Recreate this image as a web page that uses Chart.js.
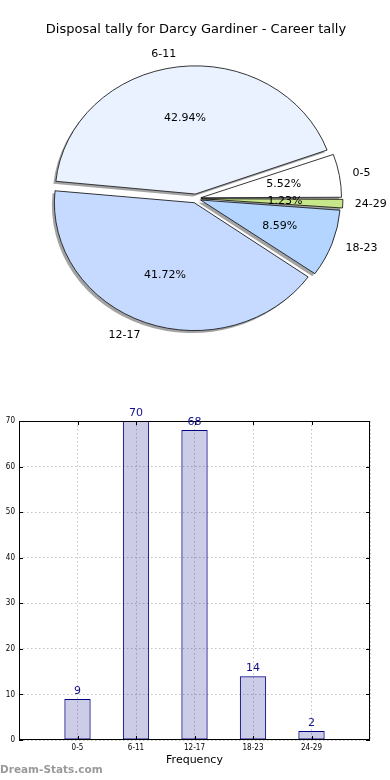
<!DOCTYPE html>
<html>
<head>
<meta charset="utf-8">
<script src="https://cdn.jsdelivr.net/npm/chart.js@4/dist/chart.umd.min.js"></script>
<style>
  body { margin: 0; background: #fff; width: 390px; height: 780px; position: relative; overflow: hidden; }
  #pie { position: absolute; left: 0; top: 0; }
  #bars { position: absolute; left: 0; top: 400px; }
  .mark { position: absolute; left: 0; top: 763px; font: bold 10.5px "DejaVu Sans", sans-serif; color: #9a9a9a; }
</style>
</head>
<body>
<canvas id="pie" width="390" height="400"></canvas>
<canvas id="bars" width="390" height="380"></canvas>
<div class="mark">Dream-Stats.com</div>
<script>
// data
const categories = ["0-5", "6-11", "12-17", "18-23", "24-29"];
const counts = [9, 70, 68, 14, 2];
const yMax = 70;
const yStep = 10;
const titleText = "Disposal tally for Darcy Gardiner - Career tally";
const xTitle = "Frequency";

const pieColors = ["#ffffff", "#eaf2ff", "#c6daff", "#b3d5ff", "#c8e68a"];
const SX = 1.094; // pie is drawn as an ellipse, like the original
const EXPLODE = 18; // chart.js moves arcs offset/4

// chart.js goes clockwise, matplotlib goes counter-clockwise: reverse
const pieLabels = categories.slice().reverse();
const pieData = counts.slice().reverse();
const pieBg = pieColors.slice().reverse();
const total = counts.reduce((s, v) => s + v, 0);

const pieExtras = {
  id: "pieExtras",
  beforeDatasetsDraw(chart) {
    const ctx = chart.ctx;
    const arcs = chart.getDatasetMeta(0).data;
    const a = arcs[0];
    ctx.save();
    ctx.translate(a.x, a.y);
    ctx.scale(SX, 1);
    ctx.translate(-a.x, -a.y);
    // shadow pass, fills only; real arcs are drawn over it
    ctx.save();
    ctx.shadowColor = "rgba(0,0,0,0.36)";
    ctx.shadowOffsetX = -2.5;
    ctx.shadowOffsetY = 2.5;
    ctx.shadowBlur = 0;
    arcs.forEach((arc) => {
      const o = arc.options;
      arc.options = Object.assign({}, o, { borderWidth: 0, borderColor: "rgba(0,0,0,0)" });
      arc.draw(ctx);
      arc.options = o;
    });
    ctx.restore();
  },
  afterDatasetsDraw(chart) {
    const ctx = chart.ctx;
    ctx.restore();
    const meta = chart.getDatasetMeta(0);
    ctx.save();
    ctx.fillStyle = "#000";
    ctx.font = "11px 'DejaVu Sans', sans-serif";
    ctx.textBaseline = "middle";
    meta.data.forEach((arc, i) => {
      const mid = (arc.startAngle + arc.endAngle) / 2;
      const c = Math.cos(mid), s = Math.sin(mid);
      const d = EXPLODE / 4;
      const r = 128;
      ctx.textAlign = c > 0 ? "left" : "right";
      ctx.fillText(pieLabels[i], arc.x + SX * (d + 1.1 * r) * c, arc.y + (d + 1.1 * r) * s);
      const pct = (pieData[i] / total * 100).toFixed(2) + "%";
      ctx.textAlign = "center";
      ctx.fillText(pct, arc.x + SX * (d + 0.6 * r) * c, arc.y + (d + 0.6 * r) * s);
    });
    ctx.restore();
  }
};

new Chart(document.getElementById("pie"), {
  type: "pie",
  data: {
    labels: pieLabels,
    datasets: [{
      data: pieData,
      backgroundColor: pieBg,
      borderColor: "#111",
      borderWidth: 0.8,
      offset: EXPLODE
    }]
  },
  options: {
    responsive: false,
    animation: false,
    rotation: 90,
    radius: 125.6,
    layout: { padding: { left: 2, right: 0, top: 0, bottom: 40.6 } },
    plugins: {
      legend: { display: false },
      tooltip: { enabled: false },
      title: {
        display: true,
        text: titleText,
        color: "#000",
        font: { family: "DejaVu Sans", size: 13, weight: "normal", lineHeight: 1.2 },
        padding: { top: 22, bottom: 0 }
      }
    }
  },
  plugins: [pieExtras]
});

// bar chart
const barExtras = {
  id: "barExtras",
  afterDatasetsDraw(chart) {
    const ctx = chart.ctx;
    const a = chart.chartArea;
    const xs = chart.scales.x, ys = chart.scales.y;
    ctx.save();
    // frame
    ctx.strokeStyle = "#000";
    ctx.lineWidth = 1;
    ctx.strokeRect(a.left + 0.5, a.top + 0.5, a.right - a.left - 1, a.bottom - a.top - 1);
    // inner tick marks
    ctx.beginPath();
    for (let v = 0; v <= yMax; v += yStep) {
      const y = Math.round(ys.getPixelForValue(v)) + 0.5;
      ctx.moveTo(a.left, y); ctx.lineTo(a.left + 4, y);
      ctx.moveTo(a.right, y); ctx.lineTo(a.right - 4, y);
    }
    categories.forEach((c, i) => {
      const x = Math.round(xs.getPixelForValue(i)) + 0.5;
      ctx.moveTo(x, a.bottom); ctx.lineTo(x, a.bottom - 4);
      ctx.moveTo(x, a.top); ctx.lineTo(x, a.top + 4);
    });
    ctx.stroke();
    // value labels
    ctx.fillStyle = "#10108a";
    ctx.font = "11px 'DejaVu Sans', sans-serif";
    ctx.textAlign = "center";
    ctx.textBaseline = "bottom";
    const meta = chart.getDatasetMeta(0);
    meta.data.forEach((bar, i) => {
      const y = ys.getPixelForValue(counts[i] + 1);
      ctx.fillText(String(counts[i]), bar.x, y + 2);
    });
    ctx.restore();
  }
};

new Chart(document.getElementById("bars"), {
  type: "bar",
  data: {
    datasets: [{
      data: counts.map((v, i) => ({ x: i, y: v })),
      backgroundColor: "rgba(0,0,128,0.2)",
      borderColor: "#000080",
      borderWidth: 1,
      borderSkipped: false,
      barPercentage: 0.45,
      categoryPercentage: 1
    }]
  },
  options: {
    responsive: false,
    animation: false,
    layout: { padding: { left: 0, right: 20, top: 21, bottom: 0 } },
    plugins: { legend: { display: false }, tooltip: { enabled: false } },
    scales: {
      x: {
        type: "linear",
        offset: false,
        min: -1,
        max: categories.length,
        afterFit(scale) { scale.height = 40; },
        ticks: {
          stepSize: 1,
          autoSkip: false,
          maxRotation: 0,
          padding: 3,
          color: "#000",
          font: { family: "'DejaVu Sans Condensed', 'Liberation Sans Narrow', 'DejaVu Sans'", size: 8 },
          callback: (v) => categories[v] ?? ""
        },
        grid: { color: "#c4c4c4", lineWidth: 1, drawTicks: false, offset: false },
        border: { display: false, dash: [1.5, 2.5] },
        title: {
          display: true,
          text: xTitle,
          color: "#000",
          font: { family: "DejaVu Sans", size: 11 },
          padding: { top: 0, bottom: 13.4 }
        }
      },
      y: {
        min: 0,
        max: yMax,
        afterFit(scale) { scale.width = 19; },
        ticks: {
          stepSize: yStep,
          padding: 4,
          color: "#000",
          font: { family: "'DejaVu Sans Condensed', 'Liberation Sans Narrow', 'DejaVu Sans'", size: 8 }
        },
        grid: { color: "#c4c4c4", lineWidth: 1, drawTicks: false },
        border: { display: false, dash: [1.5, 2.5] }
      }
    }
  },
  plugins: [barExtras]
});
</script>
</body>
</html>
